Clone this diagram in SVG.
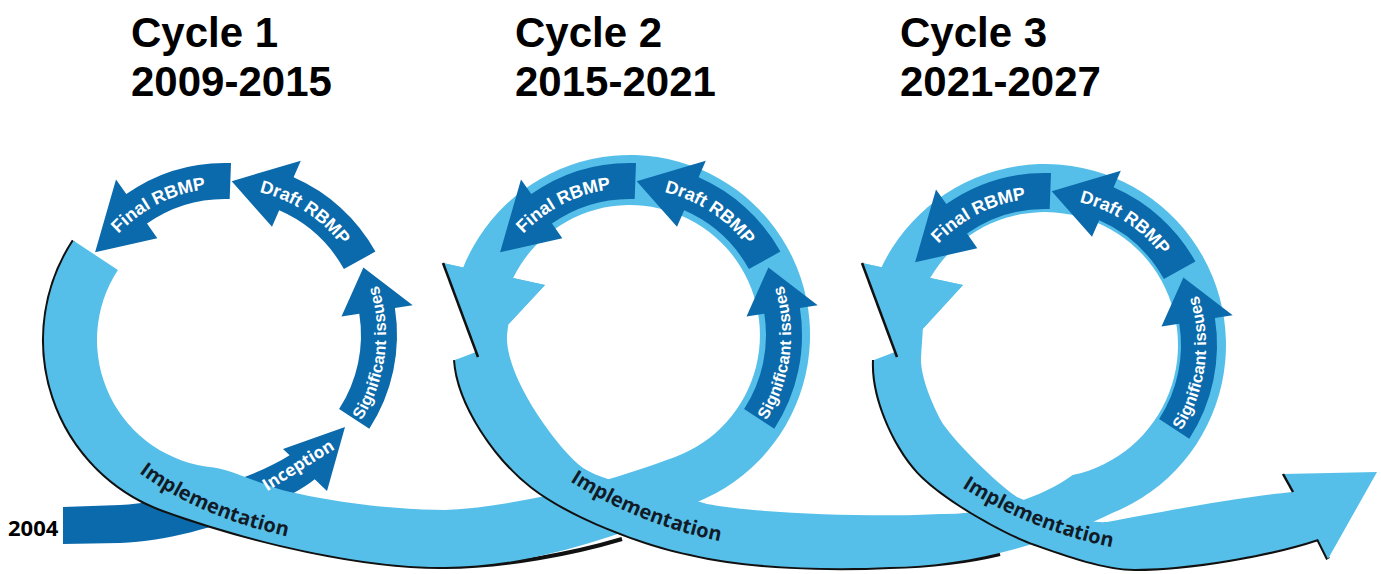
<svg xmlns="http://www.w3.org/2000/svg" xmlns:xlink="http://www.w3.org/1999/xlink" width="1381" height="574" viewBox="0 0 1381 574">
<style>
.lb{fill:#56bfe9}
.db{fill:#0b6aab}
.edge{fill:none;stroke:#111;stroke-width:4}
.line{fill:none;stroke:#111;stroke-width:2.5}
.title{font-family:"Liberation Sans",Arial,sans-serif;font-weight:bold;font-size:42px;fill:#000}
.impl{font-family:"Open Sans","Noto Sans",sans-serif;font-weight:700;font-size:20px;fill:#111b27}
.arr{font-family:"Liberation Sans",Arial,sans-serif;font-weight:bold;font-size:18px;fill:#fff}
.sig{font-size:16.5px}
.inc{font-family:"Open Sans","Noto Sans",sans-serif;font-weight:700;font-size:17px;fill:#fff}
.yr{font-family:"Open Sans","Noto Sans",sans-serif;font-weight:700;font-size:22px;fill:#000}
</style>
<defs>
<path id="fin" d="M 89.7,277.6 A 147 147 0 0 1 258.1,191.8"/>
<path id="dra" d="M 207.1,189.1 A 147 147 0 0 1 365.6,292"/>
<path id="sigp" d="M 334.8,452.8 A 161 161 0 0 0 360,247.3"/>
<path id="imp1" d="M 120,458 C 160,492 220,525 310,541"/>
<path id="imp2" d="M 550,468 C 590,496 650,530 740,545"/>
<path id="imp3" d="M 942,474 C 982,502 1042,536 1132,551"/>
<g id="steps">
<path class="db" d="M 231.0,163.1 A 172 172 0 0 0 126.3,194.1 L 116.0,179.4 L 95.1,252.3 L 157.3,238.3 L 147.0,223.6 A 136 136 0 0 1 229.7,199.1 Z"/>
<path class="db" d="M 375.4,251.6 A 172 172 0 0 0 293.6,177.3 L 300.8,160.8 L 231.7,181.2 L 272.0,226.8 L 279.2,210.3 A 136 136 0 0 1 343.9,269.1 Z"/>
<path class="db" d="M 369.3,428.7 A 172 172 0 0 0 394.9,308.1 L 412.7,305.3 L 363.4,267.5 L 341.5,316.5 L 359.3,313.7 A 136 136 0 0 1 339.1,409.1 Z"/>
<text class="arr"><textPath href="#fin" startOffset="50%" text-anchor="middle">Final RBMP</textPath></text>
<text class="arr"><textPath href="#dra" startOffset="50%" text-anchor="middle">Draft RBMP</textPath></text>
<text class="arr sig"><textPath href="#sigp" startOffset="50%" text-anchor="middle">Significant issues</textPath></text>
</g>
</defs>

<g id="titles">
<text class="title" x="131" y="47">Cycle 1</text>
<text class="title" x="131" y="96">2009-2015</text>
<text class="title" x="515" y="47">Cycle 2</text>
<text class="title" x="515" y="96">2015-2021</text>
<text class="title" x="900" y="47">Cycle 3</text>
<text class="title" x="900" y="96">2021-2027</text>
</g>

<g id="start-2004">
<path class="db" d="M 63,507 L 120,505 C 180,501 250,480 289.6,455.3 L 283,449 L 345,427 L 327,491 L 314.7,479.2 C 290,500 200,540 120,543 L 63,544 Z"/>
<text class="yr" x="8" y="536">2004</text>
</g>

<g id="band-cycle1">
<path class="edge" d="M 73.6,240.8 A 181 181 0 0 0 163.1,510.1 C 252.4,542.6 365,568 445,567 C 505,567 575,553 622,539"/>
<path class="lb" d="M 73.6,240.8 A 181 181 0 0 0 163.1,510.1 C 252.4,542.6 365,568 445,567 C 535,567 633.6,531.9 706.1,498.1 A 180 180 0 1 0 463.2,267.4 L 443,263 L 478,357 L 545,285 L 513.1,278.1 A 130 130 0 1 1 674.5,457.2 C 608.7,481.1 525,506 445,510 C 400,510 340,503 300,494 C 268,489 240,472 213.8,467.5 A 128 128 0 0 1 117.9,269.9 Z"/>
</g>

<g id="band-cycle2">
<path class="edge" d="M 455,360 C 458,405 496.5,459.5 532,487 C 571.5,517.5 645.9,545.5 690,554 C 748.8,568 830,570 890,567 C 935,566 975,560 1000,554"/>
<path class="lb" d="M 455,360 C 458,405 496.5,459.5 532,487 C 571.5,517.5 645.9,545.5 690,554 C 748.8,568 830,570 890,567 C 960,567 1047.9,545 1112.8,512.8 A 181 181 0 1 0 881.5,267.3 L 862,263 L 897,357 L 963,285 L 930.2,277.9 A 133 133 0 1 1 1072.7,475.1 C 1040.7,499.1 985,515 940,514 C 880,517.5 760,514 707,504 C 668.7,492.4 600.2,484.1 578,464 C 552.1,440.6 505,375 507,335 L 509,318 L 522,297 L 476,352 Z"/>
<path class="lb" d="M 463.2,267.4 L 443,263 L 478,357 L 545,285 L 513.1,278.1 Z"/>
<path class="line" d="M 443,263 L 478,357"/>
</g>

<g id="band-cycle3">
<path class="edge" d="M 874,360 C 872,400 897,452 923,477 C 948.4,501.1 1002,532.3 1035,544 C 1068,555.7 1105,569 1135,569 C 1190,569 1270,555 1318,539 L 1328,559"/>
<path class="lb" d="M 874,360 C 872,400 897,452 923,477 C 948.4,501.1 1002,532.3 1035,544 C 1068,555.7 1105,569 1135,569 C 1190,569 1270,555 1318,539 L 1328,559 L 1377,472 L 1283,474 L 1293,492 C 1240,497 1160,512 1107,522 C 1080,524 1040,507 1017,497 C 995,482 958,445 943,424 C 932,405 920,375 921,357 L 923,327 L 941,297 L 895,352 Z"/>
<path class="lb" d="M 881.5,267.3 L 862,263 L 897,357 L 963,285 L 930.2,277.9 Z"/>
<path class="line" d="M 862,263 L 897,357"/>
<path class="line" d="M 1283,474 L 1293,492"/>
</g>

<g id="cycle1-steps">
<use href="#steps"/>
<text class="inc" transform="translate(298,465) rotate(-32)" x="0" y="6" text-anchor="middle">Inception</text>
</g>
<g id="cycle2-steps" transform="translate(405,0)">
<use href="#steps"/>
</g>
<g id="cycle3-steps" transform="translate(820,10)">
<use href="#steps"/>
</g>

<g id="implementation-labels">
<text class="impl"><textPath href="#imp1" startOffset="24">Implementation</textPath></text>
<text class="impl"><textPath href="#imp2" startOffset="24">Implementation</textPath></text>
<text class="impl"><textPath href="#imp3" startOffset="24">Implementation</textPath></text>
</g>
</svg>
